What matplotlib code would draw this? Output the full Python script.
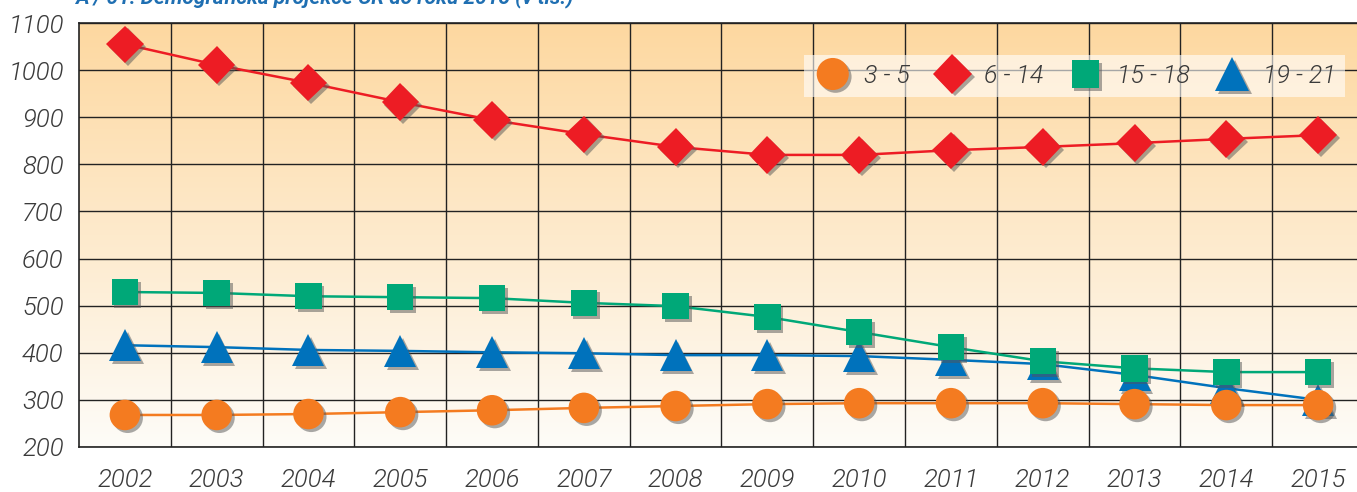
import matplotlib.pyplot as plt
import matplotlib.patheffects as pe
import numpy as np

### Data

years = [str(y) for y in range(2002, 2016)]
age_3_5 = [268, 268, 270, 274, 278, 283, 287, 291, 293, 293, 293, 291, 289, 289]
age_6_14 = [1055, 1011, 973, 932, 894, 864, 837, 820, 820, 830, 837, 845, 854, 862]
age_15_18 = [529, 527, 520, 518, 516, 506, 499, 476, 444, 412, 382, 367, 359, 359]
age_19_21 = [416, 412, 406, 404, 401, 399, 395, 395, 393, 385, 376, 353, 325, 300]
labels = ["3 - 5", "6 - 14", "15 - 18", "19 - 21"]
yticks = list(range(200, 1101, 100))

### Figure

plt.rcParams["font.family"] = ["Roboto", "DejaVu Sans"]
fig = plt.figure(figsize=(13.57, 4.92), dpi=100)
ax = fig.add_axes([79 / 1357, 1 - 447 / 492, 1285 / 1357, 424 / 492])

# gradient background, orange on top fading to near white
grad = np.linspace(0, 1, 256)[:, None]
top = np.array([253, 216, 160]) / 255
bot = np.array([254, 252, 248]) / 255
img = top * (1 - grad[..., None]) + bot * grad[..., None]
x = np.arange(len(years))
ax.imshow(img, extent=(-0.5, len(years) - 0.5, 200, 1100), aspect="auto",
          origin="upper", zorder=0)

shadow = [pe.SimplePatchShadow(offset=(2, -2), shadow_rgbFace="#555555", alpha=0.5), pe.Normal()]

series = [
    (age_3_5, "#f47b20", "o", 22),
    (age_6_14, "#ed1c24", "D", 19),
    (age_15_18, "#00a878", "s", 19),
    (age_19_21, "#0072bc", "^", 23),
]
handles = []
for (vals, col, mk, ms), lab in zip(series[::-1], labels[::-1]):
    ax.plot(x, vals, color=col, lw=1.8, zorder=3)
    h, = ax.plot(x, vals, ls="none", marker=mk, ms=ms, color=col,
                 markeredgewidth=0, zorder=4, label=lab, path_effects=shadow)
    handles.append(h)

ax.set_xlim(-0.5, len(years) - 0.5)
ax.set_ylim(200, 1100)
ax.set_xticks(x + 0.5, minor=True)
ax.set_xticks(x)
ax.set_xticklabels(years)
ax.set_yticks(yticks)
ax.grid(True, which="minor", axis="x", color="#222222", lw=1)
ax.grid(True, which="major", axis="y", color="#222222", lw=1)
ax.set_axisbelow(True)
ax.tick_params(which="both", length=0)
ax.tick_params(axis="y", pad=11, labelsize=18.5, labelcolor="#3a3a3a")
ax.tick_params(axis="x", pad=15, labelsize=18.5, labelcolor="#3a3a3a")
for t in ax.get_xticklabels() + ax.get_yticklabels():
    t.set_fontstyle("italic")
    t.set_fontweight(300)
for s in ax.spines.values():
    s.set_color("#222222")
    s.set_linewidth(1.2)

leg = ax.legend(handles=handles[::-1], ncol=4, loc="upper right",
                bbox_to_anchor=((1345 - 79) / 1285, 1 - 32 / 424), borderaxespad=0,
                frameon=True, fancybox=False, fontsize=18, handletextpad=0.45,
                columnspacing=0.9, borderpad=0.35, handlelength=1.6, markerscale=1.05)
leg.get_frame().set_facecolor("white")
leg.get_frame().set_alpha(0.6)
leg.get_frame().set_linewidth(0)
for t in leg.get_texts():
    t.set_fontstyle("italic")
    t.set_fontweight(300)
    t.set_color("#3a3a3a")

fig.text(75 / 1357, 1 - 4 / 492, "A / 01: Demografická projekce ČR do roku 2015 (v tis.)",
         color="#1f6fb2", fontsize=15, fontweight="bold", fontstyle="italic",
         va="baseline", ha="left")

fig.savefig("out.png", dpi=100)
